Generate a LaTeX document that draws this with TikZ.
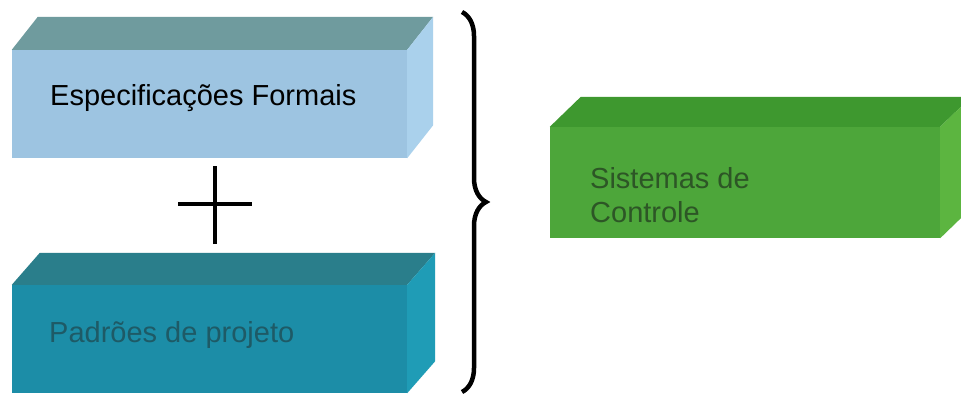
\documentclass[tikz,border=0pt]{standalone}
\usepackage{fontspec}
\setmainfont{Liberation Sans}
\usepackage{tikz}
\usetikzlibrary{decorations.pathreplacing}
\definecolor{especFront}{HTML}{9DC4E1}
\definecolor{especTop}{HTML}{6F9B9E}
\definecolor{especSide}{HTML}{AAD1EC}
\definecolor{padrFront}{HTML}{1C8DA7}
\definecolor{padrTop}{HTML}{2A7E8B}
\definecolor{padrSide}{HTML}{1F9CB6}
\definecolor{padrText}{HTML}{1E5A66}
\definecolor{sistFront}{HTML}{4DA63A}
\definecolor{sistTop}{HTML}{3E982F}
\definecolor{sistSide}{HTML}{5CB540}
\definecolor{sistText}{HTML}{2D5626}
% top and right faces of a slab: node, depth, top colour, side colour
\newcommand{\slabfaces}[4]{%
  \fill[#3] (#1.north west) -- ++(#2) -- ([shift={(#2)}]#1.north east) -- (#1.north east) -- cycle;
  \fill[#4] (#1.north east) -- ++(#2) -- ([shift={(#2)}]#1.south east) -- (#1.south east) -- cycle;
}

\begin{document}
\begin{tikzpicture}[
  x=1pt, y=-1pt,
  slab/.style={rectangle, inner sep=0pt, draw=none},
  lbl/.style={inner sep=0pt, anchor=base west, font=\fontsize{29}{34}\selectfont, align=left},
  heavy/.style={line width=4.5pt},
]
\useasboundingbox (0,0) rectangle (961,396);
\clip (0,0) rectangle (961,396);
\fill[white] (0,0) rectangle (961,396);
% the two inputs
\node[slab, fill=especFront, minimum width=395, minimum height=108] (espec) at (209.5,104) {};
\slabfaces{espec}{26,-33}{especTop}{especSide}
\node[lbl, text=black] (especlbl) at (50,105) {Especificações Formais};
\node[slab, fill=padrFront, minimum width=395, minimum height=108] (padr) at (209.5,339) {};
\slabfaces{padr}{28,-32}{padrTop}{padrSide}
\node[lbl, text=padrText] (padrlbl) at (49,342) {Padrões de projeto};
% plus between them
\coordinate (plus) at (215,204);
\draw[heavy] ([yshift=-40]plus) -- ([yshift=38]plus);
\draw[heavy] ([xshift=-37]plus) -- ([xshift=37]plus);
% brace grouping both
\coordinate (btop) at (462,12);
\coordinate (bbot) at (462,392);
\draw[line width=4.5pt, decorate, decoration={brace, amplitude=24pt}] (btop) -- (bbot);
% result
\node[slab, fill=sistFront, minimum width=390, minimum height=111] (sist) at (745,182.5) {};
\slabfaces{sist}{31,-30}{sistTop}{sistSide}
\node[lbl, text=sistText] (sistlbl) at (590,222) {Sistemas de\\Controle};
\end{tikzpicture}
\end{document}
